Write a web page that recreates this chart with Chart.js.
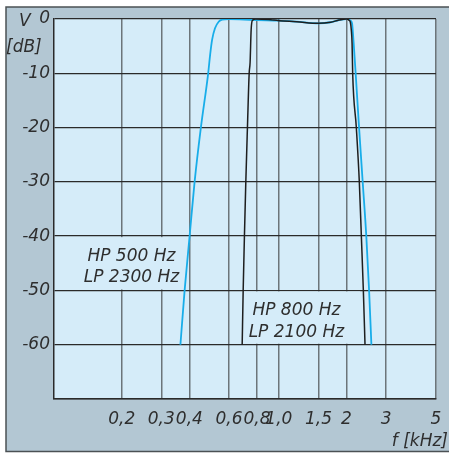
<!DOCTYPE html>
<html>
<head>
<meta charset="utf-8">
<script src="https://cdn.jsdelivr.net/npm/chart.js@4.4.0/dist/chart.umd.min.js"></script>
<style>
  html, body { margin: 0; padding: 0; background: #fff; }
  #myChart { display: block; }
</style>
</head>
<body>
<canvas id="myChart" width="449" height="453"></canvas>
<script>
// frequency axis (kHz, log) and level axis (dB)
const xTicks = [0.2, 0.3, 0.4, 0.6, 0.8, 1.0, 1.5, 2, 3, 5];
const xTickLabels = ['0,2', '0,3', '0,4', '0,6', '0,8', '1,0', '1,5', '2', '3', '5'];
const yTicks = [0, -10, -20, -30, -40, -50, -60, -70];

// HP 500 Hz / LP 2300 Hz (blue)
const blueFreq = [0.365, 0.381, 0.401, 0.422, 0.450, 0.485, 0.495, 0.505, 0.52, 0.54, 0.56, 0.6, 0.7, 0.8, 1.0, 1.2, 1.5, 1.7, 1.85, 2.0, 2.044, 2.08, 2.117, 2.135, 2.152, 2.196, 2.274, 2.36, 2.449, 2.52, 2.58];
const blueDb = [-60, -50, -40, -30, -20, -10, -6.5, -3.8, -1.7, -0.5, -0.1, 0, -0.1, -0.2, -0.3, -0.5, -0.8, -0.6, -0.2, 0, 0, -0.3, -0.8, -2.5, -4.5, -10, -20, -30, -40, -50, -60];

// HP 800 Hz / LP 2100 Hz (black)
const blackFreq = [0.687, 0.694, 0.703, 0.713, 0.725, 0.738, 0.745, 0.753, 0.762, 0.79, 0.9, 1.0, 1.2, 1.5, 1.7, 1.85, 2.0, 2.05, 2.08, 2.1, 2.117, 2.13, 2.211, 2.28, 2.328, 2.376, 2.417];
const blackDb = [-60, -50, -40, -30, -20, -10, -8, -2, -0.3, 0, -0.1, -0.3, -0.5, -0.8, -0.6, -0.2, 0, -0.2, -0.6, -2, -4.5, -10, -20, -30, -40, -50, -60];

const plotBg = '#d5ecf9';
const frameBg = '#b3c7d3';
const textColor = '#2e2e2e';
const font = 'italic 17px "DejaVu Sans"';

// text boxes: mask the grid between two dB lines
const boxes = [
  { x0: 0.13, x1: 0.372, cx: 0.221, y0: -40, y1: -50, lines: ['HP 500 Hz', 'LP 2300 Hz'] },
  { x0: 0.69, x1: 2.3, cx: 1.197, y0: -50, y1: -60, lines: ['HP 800 Hz', 'LP 2100 Hz'] }
];

const decor = {
  id: 'decor',
  beforeDraw(chart) {
    const { ctx, chartArea: a, width, height } = chart;
    ctx.save();
    ctx.fillStyle = '#fff';
    ctx.fillRect(0, 0, width, height);
    ctx.fillStyle = frameBg;
    ctx.fillRect(6, 7, width - 6, height - 8);
    ctx.strokeStyle = '#4b5154';
    ctx.lineWidth = 1.5;
    ctx.beginPath();
    ctx.moveTo(width, 7);
    ctx.lineTo(6, 7);
    ctx.lineTo(6, height - 1.5);
    ctx.lineTo(width, height - 1.5);
    ctx.stroke();
    ctx.fillStyle = plotBg;
    ctx.fillRect(a.left, a.top, a.right - a.left, a.bottom - a.top);
    ctx.restore();
  },
  beforeDatasetsDraw(chart) {
    const { ctx, scales: { x, y } } = chart;
    ctx.save();
    ctx.font = font;
    ctx.textAlign = 'center';
    ctx.textBaseline = 'middle';
    boxes.forEach(b => {
      const l = x.getPixelForValue(b.x0), r = x.getPixelForValue(b.x1);
      const t = y.getPixelForValue(b.y0), btm = y.getPixelForValue(b.y1);
      ctx.fillStyle = plotBg;
      ctx.fillRect(l, t + 1, r - l, btm - t - 2);
      ctx.fillStyle = textColor;
      const cx = x.getPixelForValue(b.cx), h = btm - t;
      ctx.fillText(b.lines[0], cx, t + h * 0.37);
      ctx.fillText(b.lines[1], cx, t + h * 0.77);
    });
    ctx.restore();
  },
  afterDraw(chart) {
    const { ctx } = chart;
    ctx.save();
    ctx.font = font;
    ctx.fillStyle = textColor;
    ctx.textBaseline = 'alphabetic';
    ctx.textAlign = 'left';
    ctx.fillText('V', 19, 26);
    ctx.fillText('[dB]', 6, 52);
    ctx.textAlign = 'right';
    ctx.fillText('f [kHz]', 448, 446);
    ctx.restore();
  }
};

const ctx = document.getElementById('myChart');

new Chart(ctx, {
  type: 'line',
  data: {
    datasets: [{
      label: 'HP 800 Hz LP 2100 Hz',
      data: blackFreq.map((f, i) => ({ x: f, y: blackDb[i] })),
      borderColor: '#1e1e1e',
      borderWidth: 1.5,
      pointRadius: 0,
      cubicInterpolationMode: 'monotone'
    }, {
      label: 'HP 500 Hz LP 2300 Hz',
      data: blueFreq.map((f, i) => ({ x: f, y: blueDb[i] })),
      borderColor: '#18ade9',
      borderWidth: 1.8,
      pointRadius: 0,
      cubicInterpolationMode: 'monotone'
    }]
  },
  options: {
    responsive: false,
    animation: false,
    layout: { padding: { top: 19, right: 13, left: 0, bottom: 0 } },
    plugins: { legend: { display: false }, tooltip: { enabled: false } },
    scales: {
      x: {
        type: 'logarithmic',
        min: 0.1,
        max: 5,
        afterBuildTicks: s => { s.ticks = xTicks.map(v => ({ value: v })); },
        afterFit: s => { s.height = 54; s.paddingLeft = 0; s.paddingRight = 0; },
        ticks: {
          autoSkip: false,
          maxRotation: 0,
          padding: 10,
          color: textColor,
          font: { family: 'DejaVu Sans', size: 17, style: 'italic' },
          callback: (v, i) => xTickLabels[i]
        },
        grid: { color: '#6c757a', lineWidth: 1.5, drawTicks: false },
        border: { color: '#2a2a2a', width: 1.5 }
      },
      y: {
        min: -70,
        max: 0,
        afterBuildTicks: s => { s.ticks = yTicks.map(v => ({ value: v })); },
        afterFit: s => { s.width = 54; s.paddingTop = 0; s.paddingBottom = 0; },
        ticks: {
          padding: 4,
          color: textColor,
          font: { family: 'DejaVu Sans', size: 17, style: 'italic' },
          callback: v => (v === -70 ? '' : v)
        },
        grid: { color: '#2a2a2a', lineWidth: 1.3, drawTicks: false },
        border: { color: '#2a2a2a', width: 1.5 }
      }
    }
  },
  plugins: [decor]
});
</script>
</body>
</html>
